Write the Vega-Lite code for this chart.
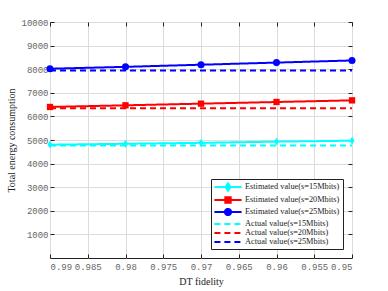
{
  "$schema": "https://vega.github.io/schema/vega-lite/v6.json",
  "autosize": {"type": "none"},
  "width": 302,
  "height": 236,
  "padding": {"left": 50, "top": 22, "right": 36, "bottom": 33},
  "background": "white",
  "config": {
    "view": {"stroke": "#222", "strokeWidth": 1},
    "axis": {
      "labelFont": "Liberation Mono", "labelFontSize": 9, "labelColor": "#666",
      "titleFont": "Liberation Serif", "titleFontSize": 10, "titleFontWeight": "normal", "titleColor": "#222",
      "gridColor": "#dcdcdc", "gridWidth": 1, "tickColor": "#222", "tickSize": -4, "domain": false
    },
    "legend": {
      "labelFont": "Liberation Serif", "labelFontSize": 8.3, "labelColor": "#222",
      "strokeColor": "#222", "fillColor": "white", "padding": 3,
      "symbolSize": 64, "symbolStrokeWidth": 1.8, "rowPadding": -4, "labelLimit": 300,
      "symbolOffset": 9, "labelOffset": 12
    }
  },
  "data": {"values": [
    {"x": 0.99, "value": 4800, "series": "Estimated value(s=15Mbits)"},
    {"x": 0.98, "value": 4840, "series": "Estimated value(s=15Mbits)"},
    {"x": 0.97, "value": 4880, "series": "Estimated value(s=15Mbits)"},
    {"x": 0.96, "value": 4930, "series": "Estimated value(s=15Mbits)"},
    {"x": 0.95, "value": 4970, "series": "Estimated value(s=15Mbits)"},
    {"x": 0.99, "value": 6400, "series": "Estimated value(s=20Mbits)"},
    {"x": 0.98, "value": 6470, "series": "Estimated value(s=20Mbits)"},
    {"x": 0.97, "value": 6540, "series": "Estimated value(s=20Mbits)"},
    {"x": 0.96, "value": 6610, "series": "Estimated value(s=20Mbits)"},
    {"x": 0.95, "value": 6680, "series": "Estimated value(s=20Mbits)"},
    {"x": 0.99, "value": 8020, "series": "Estimated value(s=25Mbits)"},
    {"x": 0.98, "value": 8100, "series": "Estimated value(s=25Mbits)"},
    {"x": 0.97, "value": 8190, "series": "Estimated value(s=25Mbits)"},
    {"x": 0.96, "value": 8280, "series": "Estimated value(s=25Mbits)"},
    {"x": 0.95, "value": 8370, "series": "Estimated value(s=25Mbits)"},
    {"x": 0.99, "value": 4770, "series": "Actual value(s=15Mbits)"},
    {"x": 0.95, "value": 4770, "series": "Actual value(s=15Mbits)"},
    {"x": 0.99, "value": 6350, "series": "Actual value(s=20Mbits)"},
    {"x": 0.95, "value": 6350, "series": "Actual value(s=20Mbits)"},
    {"x": 0.99, "value": 7950, "series": "Actual value(s=25Mbits)"},
    {"x": 0.95, "value": 7950, "series": "Actual value(s=25Mbits)"}
  ]},
  "resolve": {"axis": {"x": "independent", "y": "independent"}},
  "layer": [
    {
      "transform": [{"filter": "indexof(datum.series, 'Estimated') == 0"}],
      "mark": {"type": "line", "strokeWidth": 2},
      "encoding": {
        "x": {"field": "x", "type": "quantitative", "scale": {"domain": [0.95, 0.99], "reverse": true, "nice": false, "zero": false},
              "axis": {"title": "DT fidelity", "format": "~g", "values": [0.99,0.985,0.98,0.975,0.97,0.965,0.96,0.955,0.95], "labelPadding": 8, "titlePadding": 5}},
        "y": {"field": "value", "type": "quantitative", "scale": {"domain": [0, 10000], "nice": false},
              "axis": {"title": "Total energy consumption", "format": "d", "values": [1000,2000,3000,4000,5000,6000,7000,8000,9000,10000], "labelPadding": 6, "titlePadding": 4}},
        "color": {"field": "series", "type": "nominal", "title": null,
          "scale": {"domain": ["Estimated value(s=15Mbits)", "Estimated value(s=20Mbits)", "Estimated value(s=25Mbits)", "Actual value(s=15Mbits)", "Actual value(s=20Mbits)", "Actual value(s=25Mbits)"],
                    "range": ["#00ffff", "#ff0000", "#0000ff", "#00ffff", "#ff0000", "#0000ff"]},
          "legend": {"orient": "bottom-right", "offset": 9}},
        "strokeDash": {"field": "series", "type": "nominal", "title": null,
          "scale": {"domain": ["Estimated value(s=15Mbits)", "Estimated value(s=20Mbits)", "Estimated value(s=25Mbits)", "Actual value(s=15Mbits)", "Actual value(s=20Mbits)", "Actual value(s=25Mbits)"],
                    "range": [[1,0],[1,0],[1,0],[6,4],[6,4],[6,4]]}}
      }
    },
    {
      "transform": [{"filter": "indexof(datum.series, 'Actual') == 0"}],
      "mark": {"type": "line", "strokeWidth": 2},
      "encoding": {
        "x": {"field": "x", "type": "quantitative", "axis": {"orient": "top", "labels": false, "grid": false, "title": null, "values": [0.99,0.985,0.98,0.975,0.97,0.965,0.96,0.955,0.95]}},
        "y": {"field": "value", "type": "quantitative", "axis": {"orient": "right", "labels": false, "grid": false, "title": null, "values": [1000,2000,3000,4000,5000,6000,7000,8000,9000,10000]}},
        "color": {"field": "series", "type": "nominal"},
        "strokeDash": {"field": "series", "type": "nominal"}
      }
    },
    {
      "transform": [{"filter": "datum.series == 'Estimated value(s=15Mbits)'"}],
      "mark": {"type": "point", "filled": true, "opacity": 1, "size": 60, "shape": "M0,-1L0.65,0L0,1L-0.65,0Z"},
      "encoding": {
        "x": {"field": "x", "type": "quantitative", "axis": null},
        "y": {"field": "value", "type": "quantitative", "axis": null},
        "color": {"field": "series", "type": "nominal"}
      }
    },
    {
      "transform": [{"filter": "datum.series == 'Estimated value(s=20Mbits)'"}],
      "mark": {"type": "point", "filled": true, "opacity": 1, "size": 40, "shape": "square"},
      "encoding": {
        "x": {"field": "x", "type": "quantitative", "axis": null},
        "y": {"field": "value", "type": "quantitative", "axis": null},
        "color": {"field": "series", "type": "nominal"}
      }
    },
    {
      "transform": [{"filter": "datum.series == 'Estimated value(s=25Mbits)'"}],
      "mark": {"type": "point", "filled": true, "opacity": 1, "size": 50, "shape": "circle"},
      "encoding": {
        "x": {"field": "x", "type": "quantitative", "axis": null},
        "y": {"field": "value", "type": "quantitative", "axis": null},
        "color": {"field": "series", "type": "nominal"}
      }
    },
    {
      "mark": {"type": "point", "filled": true, "opacity": 0},
      "encoding": {
        "x": {"field": "x", "type": "quantitative", "axis": null},
        "y": {"field": "value", "type": "quantitative", "axis": null},
        "color": {"field": "series", "type": "nominal"},
        "shape": {"field": "series", "type": "nominal", "title": null,
          "scale": {"domain": ["Estimated value(s=15Mbits)", "Estimated value(s=20Mbits)", "Estimated value(s=25Mbits)", "Actual value(s=15Mbits)", "Actual value(s=20Mbits)", "Actual value(s=25Mbits)"],
                    "range": ["M-3.4,0H3.4M0,-0.95L0.65,0L0,0.95L-0.65,0Z", "M-3.4,0H3.4M-0.7,-0.7H0.7V0.7H-0.7Z", "M-3.4,0H3.4M-0.8,0A0.8,0.8,0,1,1,0.8,0A0.8,0.8,0,1,1,-0.8,0Z", "M-3.4,0H3.4", "M-3.4,0H3.4", "M-3.4,0H3.4"]}}
      }
    }
  ]
}
